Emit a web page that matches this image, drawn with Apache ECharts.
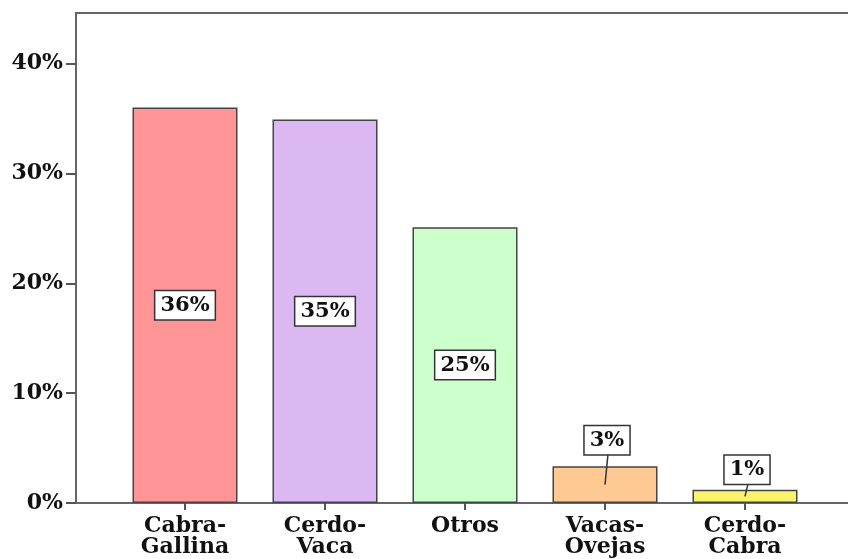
<!DOCTYPE html>
<html>
<head>
<meta charset="utf-8">
<script src="https://cdn.jsdelivr.net/npm/echarts@6/dist/echarts.min.js"></script>
<style>
  html, body { margin: 0; padding: 0; background: #fff; }
  #chart { width: 848px; height: 559px; }
</style>
</head>
<body>
<div id="chart"></div>
<script>
// data
const categories = ['Cabra-\nGallina', 'Cerdo-\nVaca', 'Otros', 'Vacas-\nOvejas', 'Cerdo-\nCabra'];
const percents = [36, 34.9, 25.1, 3.35, 1.2];
const labels = ['36%', '35%', '25%', '3%', '1%'];
const colors = ['#ff9596', '#dcb8f2', '#ccffcc', '#ffc993', '#f9f46c'];
const yTicks = [0, 10, 20, 30, 40];

const FONT = 'DejaVu Serif';
const yMax = 44.6;

const chart = echarts.init(document.getElementById('chart'), null, { renderer: 'canvas' });

// bars tall enough keep the label inside, the short ones get a box above with a leader line
const smallIdx = [3, 4];

const option = {
  animation: false,
  grid: [
    // frame runs off the right edge, so no right border shows
    { left: 76, top: 13, width: 820, bottom: 56, outerBoundsMode: 'none', containLabel: false,
      show: true, borderColor: '#666', borderWidth: 2, backgroundColor: 'transparent' },
    { left: 115, top: 13, width: 700, bottom: 56, outerBoundsMode: 'none' }
  ],
  xAxis: [
    { gridIndex: 0, type: 'value', show: false, min: 0, max: 1 },
    {
      gridIndex: 1, type: 'category', data: categories,
      axisLine: { show: false },
      axisTick: { show: true, alignWithLabel: true, length: 7, lineStyle: { color: '#555', width: 2 } },
      axisLabel: { fontFamily: FONT, fontWeight: 'bold', fontSize: 22, color: '#111', lineHeight: 21, margin: 13, interval: 0 }
    }
  ],
  yAxis: [
    {
      gridIndex: 0, type: 'value', min: 0, max: yMax,
      axisLine: { show: true, lineStyle: { color: '#666', width: 2 } },
      axisTick: { show: true, length: 10, customValues: yTicks, lineStyle: { color: '#555', width: 2 } },
      splitLine: { show: false },
      axisLabel: {
        fontFamily: FONT, fontWeight: 'bold', fontSize: 22, color: '#111', margin: 13,
        customValues: yTicks,
        formatter: v => v + '%'
      }
    },
    { gridIndex: 1, type: 'value', min: 0, max: yMax, show: false }
  ],
  series: [
    {
      type: 'bar',
      xAxisIndex: 1, yAxisIndex: 1,
      barWidth: 105,
      data: percents.map((v, i) => ({
        value: v,
        itemStyle: { color: colors[i], borderColor: '#444', borderWidth: 1.5 },
        label: {
          show: smallIdx.indexOf(i) < 0,
          position: 'inside',
          formatter: labels[i],
          fontFamily: FONT, fontWeight: 'bold', fontSize: 21, color: '#111',
          backgroundColor: '#fff', borderColor: '#333', borderWidth: 1.5,
          padding: [4, 5, 3, 5]
        }
      }))
    },
    {
      type: 'custom',
      xAxisIndex: 1, yAxisIndex: 1,
      data: smallIdx.map(i => [i, percents[i]]),
      renderItem: function (params, api) {
        const idx = api.value(0);
        const val = api.value(1);
        const mid = api.coord([idx, val / 2]);
        const top = api.coord([idx, val]);
        const lift = idx === 3 ? 26 : 20;
        const cx = mid[0] + 2;
        const cy = top[1] - lift;
        return {
          type: 'group',
          children: [
            {
              type: 'line',
              shape: { x1: mid[0], y1: mid[1], x2: cx + 1, y2: cy + 14 },
              style: { stroke: '#333', lineWidth: 1.5 }
            },
            {
              type: 'text',
              style: {
                text: labels[idx], x: cx, y: cy, align: 'center', verticalAlign: 'middle',
                font: 'bold 21px "' + FONT + '"', fill: '#111',
                backgroundColor: '#fff', borderColor: '#333', borderWidth: 1.5,
                padding: [4, 5, 3, 5]
              }
            }
          ]
        };
      },
      z: 5
    }
  ]
};

chart.setOption(option);
</script>
</body>
</html>
